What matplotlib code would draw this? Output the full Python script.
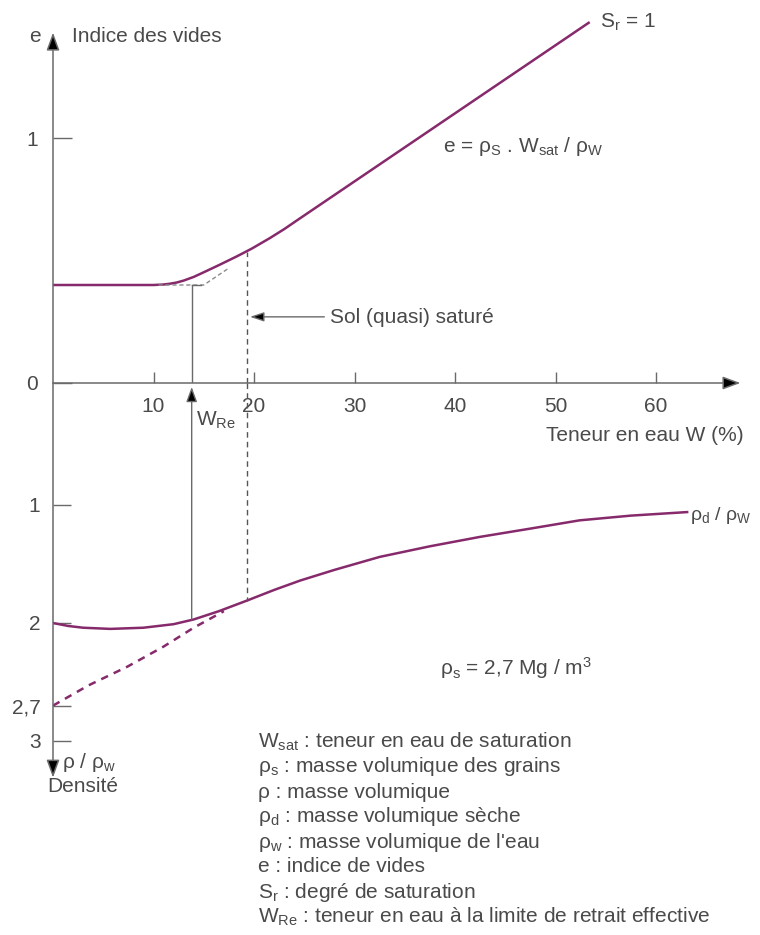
import matplotlib
matplotlib.use('Agg')
import matplotlib.pyplot as plt

plt.rcParams['font.family'] = ['Liberation Sans', 'DejaVu Sans']
plt.rcParams['mathtext.fontset'] = 'custom'
plt.rcParams['mathtext.rm'] = 'Liberation Sans'
plt.rcParams['mathtext.it'] = 'Liberation Sans:italic'
plt.rcParams['mathtext.default'] = 'regular'

# void ratio e against water content W (%)
w_e = [0, 10, 11, 11.6, 12.3, 13, 14, 14.9, 16.5, 18.3, 19.8, 21.6, 23.0, 24.5, 53.4]
e_curve = [0.4, 0.4, 0.402, 0.405, 0.41, 0.418, 0.433, 0.45, 0.481, 0.517, 0.549,
           0.592, 0.628, 0.670, 1.473]
w_e_dash = [10.5, 15, 17.5]
e_dash = [0.4, 0.4, 0.469]

# density rho / rho_w against water content
w_rho = [0, 1.5, 3, 5.7, 9, 12, 14, 16.5, 19.3, 22, 24.6, 28, 32.5, 37.5, 42.5,
         47.5, 52.4, 57.5, 63.1]
rho_curve = [2.0, 2.025, 2.04, 2.05, 2.04, 2.01, 1.97, 1.9, 1.81, 1.72, 1.64, 1.55,
             1.44, 1.35, 1.27, 1.2, 1.13, 1.09, 1.06]
w_rho_dash = [0, 3.5, 7.4, 11, 14, 17]
rho_dash = [2.7, 2.53, 2.37, 2.2, 2.04, 1.9]

w_ticks = [10, 20, 30, 40, 50, 60]
e_ticks = [0, 1]
rho_ticks = [1, 2, 2.7, 3]
rho_labels = ['1', '2', '2,7', '3']

w_re = 13.8      # retrait effectif
w_sat = 19.3     # sol (quasi) saturé
e_at_wsat = 0.535
rho_at_wre = 1.97
rho_at_wsat = 1.81

legend_lines = [
    'W$_{sat}$ : teneur en eau de saturation',
    'ρ$_s$ : masse volumique des grains',
    'ρ : masse volumique',
    'ρ$_d$ : masse volumique sèche',
    'ρ$_w$ : masse volumique de l\'eau',
    'e : indice de vides',
    'S$_r$ : degré de saturation',
    'W$_{Re}$ : teneur en eau à la limite de retrait effective',
]

CURVE = '#862a6c'
AXC = '#6a6a6a'
TXT = '#4a4a4a'
FS = 15

W, H = 760, 935
def fx(x):
    return x / W
def fy(y):
    return 1 - y / H

fig = plt.figure(figsize=(7.6, 9.35), dpi=100)
x0 = 53
ppw = 10.05
xmax = (W - x0) / ppw

ax_e = fig.add_axes([fx(x0), fy(383), 1 - fx(x0), 383 / H])
ax_r = fig.add_axes([fx(x0), 0, 1 - fx(x0), fy(383)])
ax_e.set_xlim(0, xmax)
ax_r.set_xlim(0, xmax)
ax_e.set_ylim(0, 383 / 245)
ax_r.set_ylim((H - 387) / 118, -4 / 118)

for ax in (ax_e, ax_r):
    for s in ax.spines.values():
        s.set_visible(False)
    ax.patch.set_alpha(0)

arrow = dict(arrowstyle='-|>,head_length=0.6,head_width=0.22', color=AXC,
             lw=1.1, shrinkA=0, shrinkB=0, mutation_scale=18)

# axes drawn as arrows
a = ax_e.annotate('', xy=(0, 1.43), xytext=(0, 0), arrowprops=arrow, annotation_clip=False)
a.arrow_patch.set_facecolor('black')
a = ax_e.annotate('', xy=(68.4, 0), xytext=(0, 0), arrowprops=arrow, annotation_clip=False)
a.arrow_patch.set_facecolor('black')
a = ax_r.annotate('', xy=(0, 3.31), xytext=(0, -0.034), arrowprops=arrow, annotation_clip=False)
a.arrow_patch.set_facecolor('black')

# ticks
ax_e.set_xticks(w_ticks)
ax_e.set_xticklabels([str(t) for t in w_ticks])
ax_e.tick_params(axis='x', direction='in', length=8, width=1, color=AXC,
                 labelsize=FS, labelcolor=TXT, pad=10)
ax_e.set_yticks(e_ticks)
ax_e.set_yticklabels(['0', '1'])
ax_e.tick_params(axis='y', direction='in', length=14, width=1, color=AXC,
                 labelsize=FS, labelcolor=TXT, pad=11)
ax_r.set_xticks([])
ax_r.set_yticks(rho_ticks)
ax_r.set_yticklabels(rho_labels)
ax_r.tick_params(axis='y', direction='in', length=13, width=1, color=AXC,
                 labelsize=FS, labelcolor=TXT, pad=9)

# curves
ax_e.plot(w_e, e_curve, color=CURVE, lw=1.8, solid_capstyle='butt')
ax_e.plot(w_e_dash, e_dash, color='#8a8a8a', lw=1, ls=(0, (3, 2)))
ax_r.plot(w_rho, rho_curve, color=CURVE, lw=1.8)
ax_r.plot(w_rho_dash, rho_dash, color=CURVE, lw=1.8, ls=(0, (3, 2.5)))

# W_Re line with arrow at the W axis
ax_e.plot([w_re, w_re], [0, e_curve[1]], color=AXC, lw=1)
ax_e.plot([w_re, w_re + 0.9], [e_curve[1], e_curve[1]], color=AXC, lw=1)
a = ax_r.annotate('', xy=(w_re, 0.0), xytext=(w_re, rho_at_wre),
                  arrowprops=dict(arrowstyle='-|>,head_length=0.6,head_width=0.22',
                                  color=AXC, lw=1, shrinkA=0, shrinkB=0,
                                  mutation_scale=15))
a.arrow_patch.set_facecolor('black')

# saturation limit, dashed
ax_e.plot([w_sat, w_sat], [0, e_at_wsat], color='#555555', lw=1, ls=(0, (4, 3)))
ax_r.plot([w_sat, w_sat], [-0.034, rho_at_wsat], color='#555555', lw=1, ls=(0, (4, 3)))

a = ax_e.annotate('', xy=(w_sat + 0.3, 0.27), xytext=(27.0, 0.27),
                  arrowprops=dict(arrowstyle='-|>,head_length=0.6,head_width=0.2',
                                  color=AXC, lw=1, shrinkA=0, shrinkB=0,
                                  mutation_scale=14))
a.arrow_patch.set_facecolor('black')

# texts
tk = dict(color=TXT, fontsize=FS, va='center')
fig.text(fx(35), fy(37), 'e', ha='center', **tk)
fig.text(fx(72), fy(37), 'Indice des vides', ha='left', **tk)
fig.text(fx(600), fy(22), 'S$_r$ = 1', ha='left', **tk)
fig.text(fx(443), fy(147), 'e = ρ$_S$ . W$_{sat}$ / ρ$_W$', ha='left', **tk)
fig.text(fx(330), fy(317), 'Sol (quasi) saturé', ha='left', **tk)
fig.text(fx(196), fy(420), 'W$_{Re}$', ha='left', **tk)
fig.text(fx(546), fy(435), 'Teneur en eau W (%)', ha='left', **tk)
fig.text(fx(690), fy(515), 'ρ$_d$ / ρ$_W$', ha='left', color=TXT, fontsize=14,
         va='center')
fig.text(fx(440), fy(668), 'ρ$_s$ = 2,7 Mg / m$^3$', ha='left', **tk)
fig.text(fx(62), fy(763), 'ρ / ρ$_w$', ha='left', **tk)
fig.text(fx(47), fy(786), 'Densité', ha='left', **tk)

for i, line in enumerate(legend_lines):
    fig.text(fx(258), fy(742 + 25 * i), line, ha='left', **tk)

fig.savefig('out.png', dpi=100)
